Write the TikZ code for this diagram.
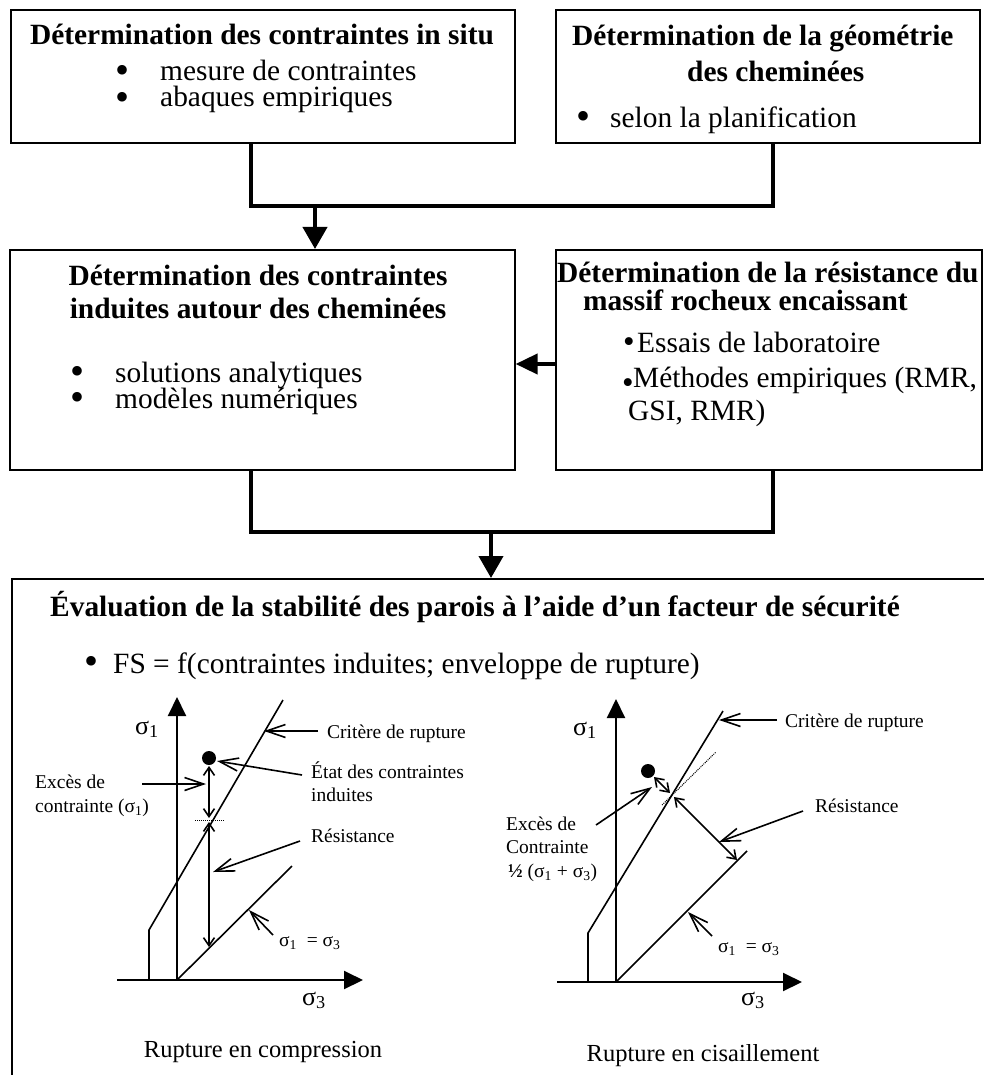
\documentclass[tikz,border=0pt]{standalone}
\usepackage{fontspec}
\setmainfont{Liberation Serif}
\usetikzlibrary{arrows.meta}
\tikzset{
  box/.style={draw, line width=1.6pt, inner sep=0pt, anchor=north west},
  conn/.style={line width=4pt},
  bigtip/.style={-{Triangle[length=22pt,width=24pt]}},
  sidetip/.style={-{Triangle[length=22pt,width=20pt]}},
  txt/.style={inner sep=0pt, font=\fontsize{29.4}{29.4}\selectfont},
  btxt/.style={inner sep=0pt, font=\fontsize{29.4}{29.4}\selectfont\bfseries},
  bul/.style={inner sep=0pt, anchor=center, font=\fontsize{40}{40}\selectfont},
  sbul/.style={inner sep=0pt, anchor=center, font=\fontsize{33}{33}\selectfont},
  lab/.style={inner sep=0pt, font=\fontsize{19.5}{22}\selectfont},
  sig/.style={inner sep=0pt, font=\fontsize{26}{26}\selectfont},
  capt/.style={inner sep=0pt, font=\fontsize{24.5}{26}\selectfont},
  axis/.style={line width=2pt, -{Triangle[length=19pt,width=18pt]}},
  crit/.style={line width=1.6pt},
  labarr/.style={line width=1.6pt, -{Straight Barb[length=19pt,width=13pt]}},
  dbl/.style={line width=1.6pt, {Straight Barb[length=8pt,width=11pt]}-{Straight Barb[length=8pt,width=11pt]}},
  dotl/.style={densely dotted, line width=1pt},
}
\begin{document}
\begin{tikzpicture}[x=1pt,y=-1pt]
\useasboundingbox (0,0) rectangle (983,1075);
\fill[white] (0,0) rectangle (983,1075);

% ---------- boxes ----------
\node[box, minimum width=504pt, minimum height=133pt] (b1) at (10,9) {};
\node[box, minimum width=424pt, minimum height=133pt] (b2) at (555,9) {};
\node[box, minimum width=505pt, minimum height=220pt] (b3) at (9,249) {};
\node[box, minimum width=426pt, minimum height=220pt] (b4) at (555,249) {};
\node[box, minimum width=1000pt, minimum height=600pt] (b5) at (11,578) {};

% ---------- box 1 ----------
\node[btxt, anchor=base] (t1) at (262,45) {Détermination des contraintes in situ};
\node[bul] (t1b1) at (123,74) {•};
\node[txt, anchor=base west] (t1l1) at (160,81) {mesure de contraintes};
\node[bul] (t1b2) at (123,101) {•};
\node[txt, anchor=base west] (t1l2) at (160,107) {abaques empiriques};

% ---------- box 2 ----------
\node[btxt, anchor=base west] (t2) at (572,46) {Détermination de la géométrie};
\node[btxt, anchor=base west] (t2b) at (687,82) {des cheminées};
\node[bul] (t2b1) at (583,120) {•};
\node[txt, anchor=base west] (t2l1) at (610,128) {selon la planification};

% ---------- box 3 ----------
\node[btxt, anchor=base] (t3) at (258,285) {Détermination des contraintes};
\node[btxt, anchor=base] (t3b) at (258,318) {induites autour des cheminées};
\node[bul] (t3b1) at (78,375) {•};
\node[txt, anchor=base west] (t3l1) at (115,382) {solutions analytiques};
\node[bul] (t3b2) at (78,401) {•};
\node[txt, anchor=base west] (t3l2) at (115,408) {modèles numériques};

% ---------- box 4 ----------
\node[btxt, anchor=base west] (t4) at (557,282) {Détermination de la résistance du};
\node[btxt, anchor=base west] (t4b) at (583,310) {massif rocheux encaissant};
\node[sbul] (t4b1) at (629,345) {•};
\node[txt, anchor=base west] (t4l1) at (637,352) {Essais de laboratoire};
\node[sbul] (t4b2) at (628,386) {•};
\node[txt, anchor=base west] (t4l2) at (633,387) {Méthodes empiriques (RMR,};
\node[txt, anchor=base west] (t4l3) at (628,420) {GSI, RMR)};

% ---------- box 5 ----------
\node[btxt, anchor=base west] (t5) at (50,616) {Évaluation de la stabilité des parois à l’aide d’un facteur de sécurité};
\node[bul] (t5b1) at (92,665) {•};
\node[txt, anchor=base west] (t5l1) at (113,673) {FS = f(contraintes induites; enveloppe de rupture)};

% ---------- connectors ----------
\coordinate (j1) at (251,206);
\coordinate (j2) at (773,206);
\coordinate (a1) at (315,206);
\draw[conn] (b1.south -| j1) -- (j1) -- (j2) -- (b2.south -| j2);
\draw[conn, bigtip] (a1) -- (b3.north -| a1);

\coordinate (k1) at (251,532);
\coordinate (k2) at (773,532);
\coordinate (a2) at (491,532);
\draw[conn] (b3.south -| k1) -- (k1) -- (k2) -- (b4.south -| k2);
\draw[conn, bigtip] (a2) -- (b5.north -| a2);

\coordinate (h) at (530,364);
\draw[conn, sidetip] (b4.west |- h) -- (b3.east |- h);

% ---------- plot 1 : compression ----------
\coordinate (O1) at (177,980);
\draw[axis] (O1) -- (177,697);
\draw[axis] (117,980) -- (363,980);
\draw[crit] (149,980) -- (149,930) -- (283,700);
\draw[crit] (O1) -- (292,866);
\fill (209,758) circle (7pt);
\draw[dotl] (195,820) -- (225,820);
\draw[dbl] (209,766) -- (209,818);
\draw[dbl] (209,822) -- (209,947);
\draw[labarr] (318,731) -- (264,731);
\draw[labarr] (302,775) -- (217,761);
\draw[labarr] (142,784) -- (206,784);
\draw[labarr] (300,841) -- (213,872);
\draw[labarr] (273,935) -- (249,910);

\node[sig, anchor=base west] (p1s1) at (135,734) {σ\textsubscript{1}};
\node[lab, anchor=base west] (p1c) at (327,738) {Critère de rupture};
\node[lab, anchor=base west] (p1e1) at (311,778) {État des contraintes};
\node[lab, anchor=base west] (p1e2) at (311,801) {induites};
\node[lab, anchor=base west] (p1x1) at (35,788) {Excès de};
\node[lab, anchor=base west] (p1x2) at (35,812) {contrainte (σ\textsubscript{1})};
\node[lab, anchor=base west] (p1r) at (311,842) {Résistance};
\node[lab, anchor=base west] (p1eq) at (279,946) {σ\textsubscript{1} \ = σ\textsubscript{3}};
\node[sig, anchor=base west] (p1s3) at (302,1005) {σ\textsubscript{3}};
\node[capt, anchor=base] (p1t) at (263,1057) {Rupture en compression};

% ---------- plot 2 : cisaillement ----------
\coordinate (O2) at (616,982);
\draw[axis] (O2) -- (616,699);
\draw[axis] (557,982) -- (802,982);
\draw[crit] (588,982) -- (588,933) -- (723,711);
\draw[crit] (O2) -- (747,851);
\draw[dotl] (662,805) -- (716,752);
\fill (648,771) circle (7pt);
\draw[dbl] (654,777) -- (670,793);
\draw[dbl] (674,797) -- (737,860);
\draw[labarr] (777,720) -- (719,720);
\draw[labarr] (803,811) -- (719,842);
\draw[labarr] (596,825) -- (652,787);
\draw[labarr] (712,936) -- (688,912);

\node[sig, anchor=base west] (p2s1) at (573,735) {σ\textsubscript{1}};
\node[lab, anchor=base west] (p2c) at (785,727) {Critère de rupture};
\node[lab, anchor=base west] (p2r) at (815,812) {Résistance};
\node[lab, anchor=base west] (p2x1) at (506,830) {Excès de};
\node[lab, anchor=base west] (p2x2) at (506,853) {Contrainte};
\node[lab, anchor=base west] (p2x3) at (508,877) {\textbf{½} (σ\textsubscript{1} + σ\textsubscript{3})};
\node[lab, anchor=base west] (p2eq) at (718,952) {σ\textsubscript{1} \ = σ\textsubscript{3}};
\node[sig, anchor=base west] (p2s3) at (741,1005) {σ\textsubscript{3}};
\node[capt, anchor=base] (p2t) at (703,1061) {Rupture en cisaillement};
\end{tikzpicture}
\end{document}
